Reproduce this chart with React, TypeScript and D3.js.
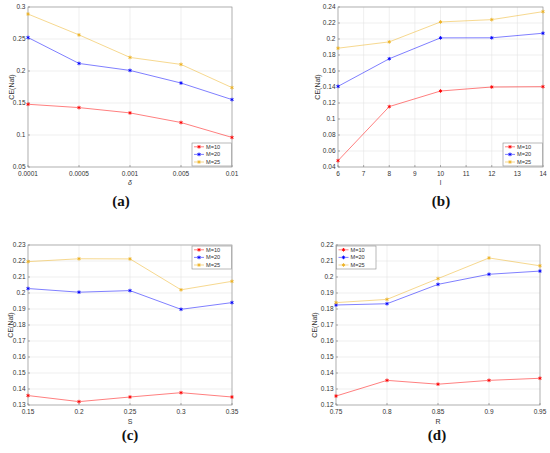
import * as d3 from "d3";

// ---- data ----
const deltaLabels = ["0.0001", "0.0005", "0.001", "0.005", "0.01"];
const deltaM10 = [0.148, 0.1428, 0.1345, 0.1195, 0.0962];
const deltaM20 = [0.2523, 0.2118, 0.2009, 0.1812, 0.1553];
const deltaM25 = [0.289, 0.2564, 0.2212, 0.2103, 0.174];

const lValues = [6, 8, 10, 12, 14];
const lM10 = [0.0479, 0.1155, 0.135, 0.14, 0.1404];
const lM20 = [0.1408, 0.1753, 0.2014, 0.2015, 0.2072];
const lM25 = [0.1885, 0.1964, 0.2213, 0.2242, 0.2342];

const sValues = [0.15, 0.2, 0.25, 0.3, 0.35];
const sM10 = [0.1359, 0.1321, 0.135, 0.1377, 0.135];
const sM20 = [0.2028, 0.2005, 0.2015, 0.1898, 0.194];
const sM25 = [0.2196, 0.2214, 0.2213, 0.202, 0.2073];

const rValues = [0.75, 0.8, 0.85, 0.9, 0.95];
const rM10 = [0.1256, 0.1354, 0.133, 0.1354, 0.1367];
const rM20 = [0.1825, 0.1833, 0.1954, 0.2017, 0.2037];
const rM25 = [0.184, 0.186, 0.199, 0.2119, 0.207];

const seriesNames = ["M=10", "M=20", "M=25"];
const seriesColors = ["#ff0000", "#0000ff", "#edb120"];

const yTicksA = ["0.05", "0.1", "0.15", "0.2", "0.25", "0.3"];
const yTicksB = ["0.04", "0.06", "0.08", "0.1", "0.12", "0.14", "0.16", "0.18", "0.2", "0.22", "0.24"];
const yTicksC = ["0.13", "0.14", "0.15", "0.16", "0.17", "0.18", "0.19", "0.2", "0.21", "0.22", "0.23"];
const yTicksD = ["0.12", "0.13", "0.14", "0.15", "0.16", "0.17", "0.18", "0.19", "0.2", "0.21", "0.22"];
const xTicksB = ["6", "7", "8", "9", "10", "11", "12", "13", "14"];
const xTicksC = ["0.15", "0.2", "0.25", "0.3", "0.35"];
const xTicksD = ["0.75", "0.8", "0.85", "0.9", "0.95"];

const SANS = { fontFamily: '"Liberation Sans", Arimo, Arial, sans-serif' };
const SERIF = { fontFamily: '"Liberation Serif", "DejaVu Serif", serif' };

type Box = { left: number; right: number; top: number; bottom: number };
type PanelProps = {
  box: Box;
  x: (v: any) => number;
  xTicks: { pos: number; label: string }[];
  yDomain: [number, number];
  yTicks: string[];
  xs: any[];
  series: number[][];
  xLabel: string;
  xLabelItalic?: boolean;
  xLabelPos: [number, number];
  yLabelX: number;
  caption: string;
  captionPos: [number, number];
  legend: [number, number];
};

const Panel = (p: PanelProps) => {
  const { box } = p;
  const y = d3.scaleLinear().domain(p.yDomain).range([box.bottom, box.top]);
  const line = d3
    .line<number>()
    .x((_, i) => p.x(p.xs[i]))
    .y((d) => y(d));
  const marker = d3.symbol(d3.symbolAsterisk, 9)();
  const [lx, ly] = p.legend;
  return (
    <g>
      {/* grid */}
      {p.xTicks.map((t) => (
        <line
          key={"gx" + t.label}
          x1={t.pos}
          x2={t.pos}
          y1={box.top}
          y2={box.bottom}
          stroke="#e4e4e4"
          strokeWidth={0.6}
        />
      ))}
      {p.yTicks.map((t) => (
        <line
          key={"gy" + t}
          x1={box.left}
          x2={box.right}
          y1={y(+t)}
          y2={y(+t)}
          stroke="#e4e4e4"
          strokeWidth={0.6}
        />
      ))}
      {/* box + ticks */}
      <rect
        x={box.left}
        y={box.top}
        width={box.right - box.left}
        height={box.bottom - box.top}
        fill="none"
        stroke="#9a9a9a"
        strokeWidth={0.7}
      />
      {p.xTicks.map((t) => (
        <g key={"tx" + t.label}>
          <line x1={t.pos} x2={t.pos} y1={box.bottom} y2={box.bottom - 2} stroke="#777" strokeWidth={0.6} />
          <text x={t.pos} y={box.bottom + 9} fontSize={6.5} style={SANS} fill="#333" textAnchor="middle">
            {t.label}
          </text>
        </g>
      ))}
      {p.yTicks.map((t) => (
        <g key={"ty" + t}>
          <line x1={box.left} x2={box.left + 2} y1={y(+t)} y2={y(+t)} stroke="#777" strokeWidth={0.6} />
          <text x={box.left - 2.5} y={y(+t) + 2.3} fontSize={6.5} style={SANS} fill="#333" textAnchor="end">
            {t}
          </text>
        </g>
      ))}
      {/* series */}
      {p.series.map((s, i) => (
        <g key={"s" + i}>
          <path d={line(s) || ""} fill="none" stroke={seriesColors[i]} strokeOpacity={0.5} strokeWidth={1} />
          {s.map((v, j) => (
            <path
              key={j}
              d={marker || ""}
              transform={`translate(${p.x(p.xs[j])},${y(v)})`}
              stroke={seriesColors[i]}
              strokeWidth={0.9}
              fill="none"
            />
          ))}
        </g>
      ))}
      {/* legend */}
      <rect x={lx} y={ly} width={39.5} height={23} fill="#fff" stroke="#8a8a8a" strokeWidth={0.6} />
      {seriesNames.map((n, i) => {
        const cy = ly + 3.8 + i * 7.6;
        return (
          <g key={n}>
            <line x1={lx + 2} x2={lx + 12} y1={cy} y2={cy} stroke={seriesColors[i]} strokeOpacity={0.5} strokeWidth={1} />
            <path d={marker || ""} transform={`translate(${lx + 7},${cy})`} stroke={seriesColors[i]} strokeWidth={0.9} fill="none" />
            <text x={lx + 14} y={cy + 2} fontSize={5.6} style={SANS} fill="#333">
              {n}
            </text>
          </g>
        );
      })}
      {/* labels */}
      <text
        transform={`translate(${p.yLabelX},${(box.top + box.bottom) / 2}) rotate(-90)`}
        fontSize={7}
        style={SANS}
        fill="#333"
        textAnchor="middle"
        dominantBaseline="middle"
      >
        CE(Nat)
      </text>
      <text
        x={p.xLabelPos[0]}
        y={p.xLabelPos[1]}
        fontSize={7}
        style={SANS}
        fontStyle={p.xLabelItalic ? "italic" : "normal"}
        fill="#333"
        textAnchor="middle"
        dominantBaseline="middle"
      >
        {p.xLabel}
      </text>
      <text
        x={p.captionPos[0]}
        y={p.captionPos[1]}
        fontSize={15}
        style={SERIF}
        fontWeight="bold"
        fill="#111"
        textAnchor="middle"
        dominantBaseline="middle"
      >
        {p.caption}
      </text>
    </g>
  );
};

export default function App() {
  const boxA = { left: 28, right: 232, top: 7, bottom: 167 };
  const boxB = { left: 338, right: 543, top: 7, bottom: 167 };
  const boxC = { left: 28, right: 232, top: 245, bottom: 405 };
  const boxD = { left: 336, right: 540, top: 245, bottom: 405 };

  const xA = d3.scalePoint<string>().domain(deltaLabels).range([boxA.left, boxA.right]);
  const xB = d3.scaleLinear().domain([6, 14]).range([boxB.left, boxB.right]);
  const xC = d3.scaleLinear().domain([0.15, 0.35]).range([boxC.left, boxC.right]);
  const xD = d3.scaleLinear().domain([0.75, 0.95]).range([boxD.left, boxD.right]);

  return (
    <div style={{ position: "absolute", left: 0, top: 0 }}>
      <svg width={550} height={453} style={{ display: "block", background: "#fff" }}>
        <Panel
          box={boxA}
          x={(v: string) => xA(v) as number}
          xTicks={deltaLabels.map((l) => ({ pos: xA(l) as number, label: l }))}
          yDomain={[0.05, 0.3]}
          yTicks={yTicksA}
          xs={deltaLabels}
          series={[deltaM10, deltaM20, deltaM25]}
          xLabel="δ"
          xLabelItalic
          xLabelPos={[130, 183]}
          yLabelX={12}
          caption="(a)"
          captionPos={[121, 203]}
          legend={[192, 143]}
        />
        <Panel
          box={boxB}
          x={(v: number) => xB(v)}
          xTicks={xTicksB.map((l) => ({ pos: xB(+l), label: l }))}
          yDomain={[0.04, 0.24]}
          yTicks={yTicksB}
          xs={lValues}
          series={[lM10, lM20, lM25]}
          xLabel="l"
          xLabelPos={[440.5, 183]}
          yLabelX={318}
          caption="(b)"
          captionPos={[441, 203]}
          legend={[503, 143]}
        />
        <Panel
          box={boxC}
          x={(v: number) => xC(v)}
          xTicks={xTicksC.map((l) => ({ pos: xC(+l), label: l }))}
          yDomain={[0.13, 0.23]}
          yTicks={yTicksC}
          xs={sValues}
          series={[sM10, sM20, sM25]}
          xLabel="S"
          xLabelPos={[130, 422]}
          yLabelX={11}
          caption="(c)"
          captionPos={[130, 437]}
          legend={[192, 246]}
        />
        <Panel
          box={boxD}
          x={(v: number) => xD(v)}
          xTicks={xTicksD.map((l) => ({ pos: xD(+l), label: l }))}
          yDomain={[0.12, 0.22]}
          yTicks={yTicksD}
          xs={rValues}
          series={[rM10, rM20, rM25]}
          xLabel="R"
          xLabelPos={[438, 422]}
          yLabelX={315}
          caption="(d)"
          captionPos={[437, 437]}
          legend={[336.5, 246]}
        />
      </svg>
    </div>
  );
}
